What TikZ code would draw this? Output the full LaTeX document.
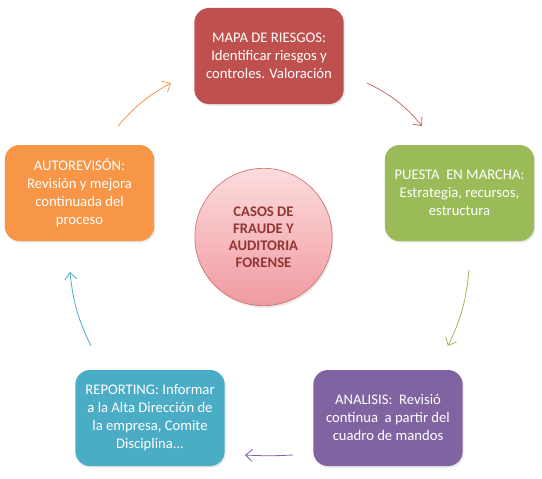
\documentclass[tikz,border=0pt]{standalone}
\usepackage{fontspec}
\setmainfont{Carlito}
\usetikzlibrary{shadows,arrows.meta}
\definecolor{cred}{HTML}{C0504D}
\definecolor{cgreen}{HTML}{9BBB59}
\definecolor{cpurple}{HTML}{8064A2}
\definecolor{cblue}{HTML}{4BACC6}
\definecolor{corange}{HTML}{F79646}
\definecolor{ctext}{HTML}{943634}
\definecolor{cpinkA}{HTML}{FCDCDD}
\definecolor{cpinkB}{HTML}{F09AA0}
\tikzset{
  stepbox/.style={rectangle, rounded corners=11pt, minimum width=112pt, minimum height=72pt,
    text=white, align=center, font=\fontsize{11}{13.5}\selectfont, inner sep=2pt,
    drop shadow={opacity=0.2, shadow xshift=0.8pt, shadow yshift=-1.2pt}},
  cyc/.style={-{Straight Barb[length=5pt,width=9pt]}, line width=0.6pt},
}
\begin{document}
\begin{tikzpicture}[x=0.75pt,y=-0.75pt]
\useasboundingbox (0,0) rectangle (542,478);
\node[stepbox, fill=cred] (mapa) at (269,56) {MAPA DE RIESGOS:\\Identificar riesgos y\\controles. Valoración};
\node[stepbox, fill=cgreen] (puesta) at (459.5,193) {PUESTA\ \ EN MARCHA:\\Estrategia, recursos,\\estructura};
\node[stepbox, fill=cpurple] (analisis) at (388,418) {ANALISIS:\ \ Revisió\\continua\ \ a partir del\\cuadro de mandos};
\node[stepbox, fill=cblue] (report) at (150,418) {REPORTING: Informar\\a la Alta Dirección de\\la empresa, Comite\\Disciplina...};
\node[stepbox, fill=corange] (auto) at (79.5,193) {AUTOREVISÓN:\\Revisión y mejora\\continuada del\\proceso};
\node[circle, minimum size=103pt, inner sep=0pt, top color=cpinkA, bottom color=cpinkB,
  draw=cred!80, line width=0.5pt, text=ctext, align=center,
  font=\bfseries\fontsize{11}{12.8}\selectfont,
  drop shadow={opacity=0.2, shadow xshift=1pt, shadow yshift=-1.5pt}] (center) at (263.5,237)
  {CASOS DE\\FRAUDE Y\\AUDITORIA\\FORENSE};
\coordinate (r1) at (367,83);  \coordinate (r2) at (422,126);
\coordinate (g1) at (469,270); \coordinate (g2) at (448,346);
\coordinate (p1) at (293,455); \coordinate (p2) at (245,455);
\coordinate (b1) at (91,346);  \coordinate (b2) at (70,272);
\coordinate (o1) at (118,126); \coordinate (o2) at (171,83);
\draw[cyc, draw=cred!85] (r1) to[bend left=12] (r2);
\draw[cyc, draw=cgreen] (g1) to[bend left=10] (g2);
\draw[cyc, draw=cpurple] (p1) to[bend left=3] (p2);
\draw[cyc, draw=cblue] (b1) to[bend left=10] (b2);
\draw[cyc, draw=corange] (o1) to[bend left=10] (o2);
\end{tikzpicture}
\end{document}
